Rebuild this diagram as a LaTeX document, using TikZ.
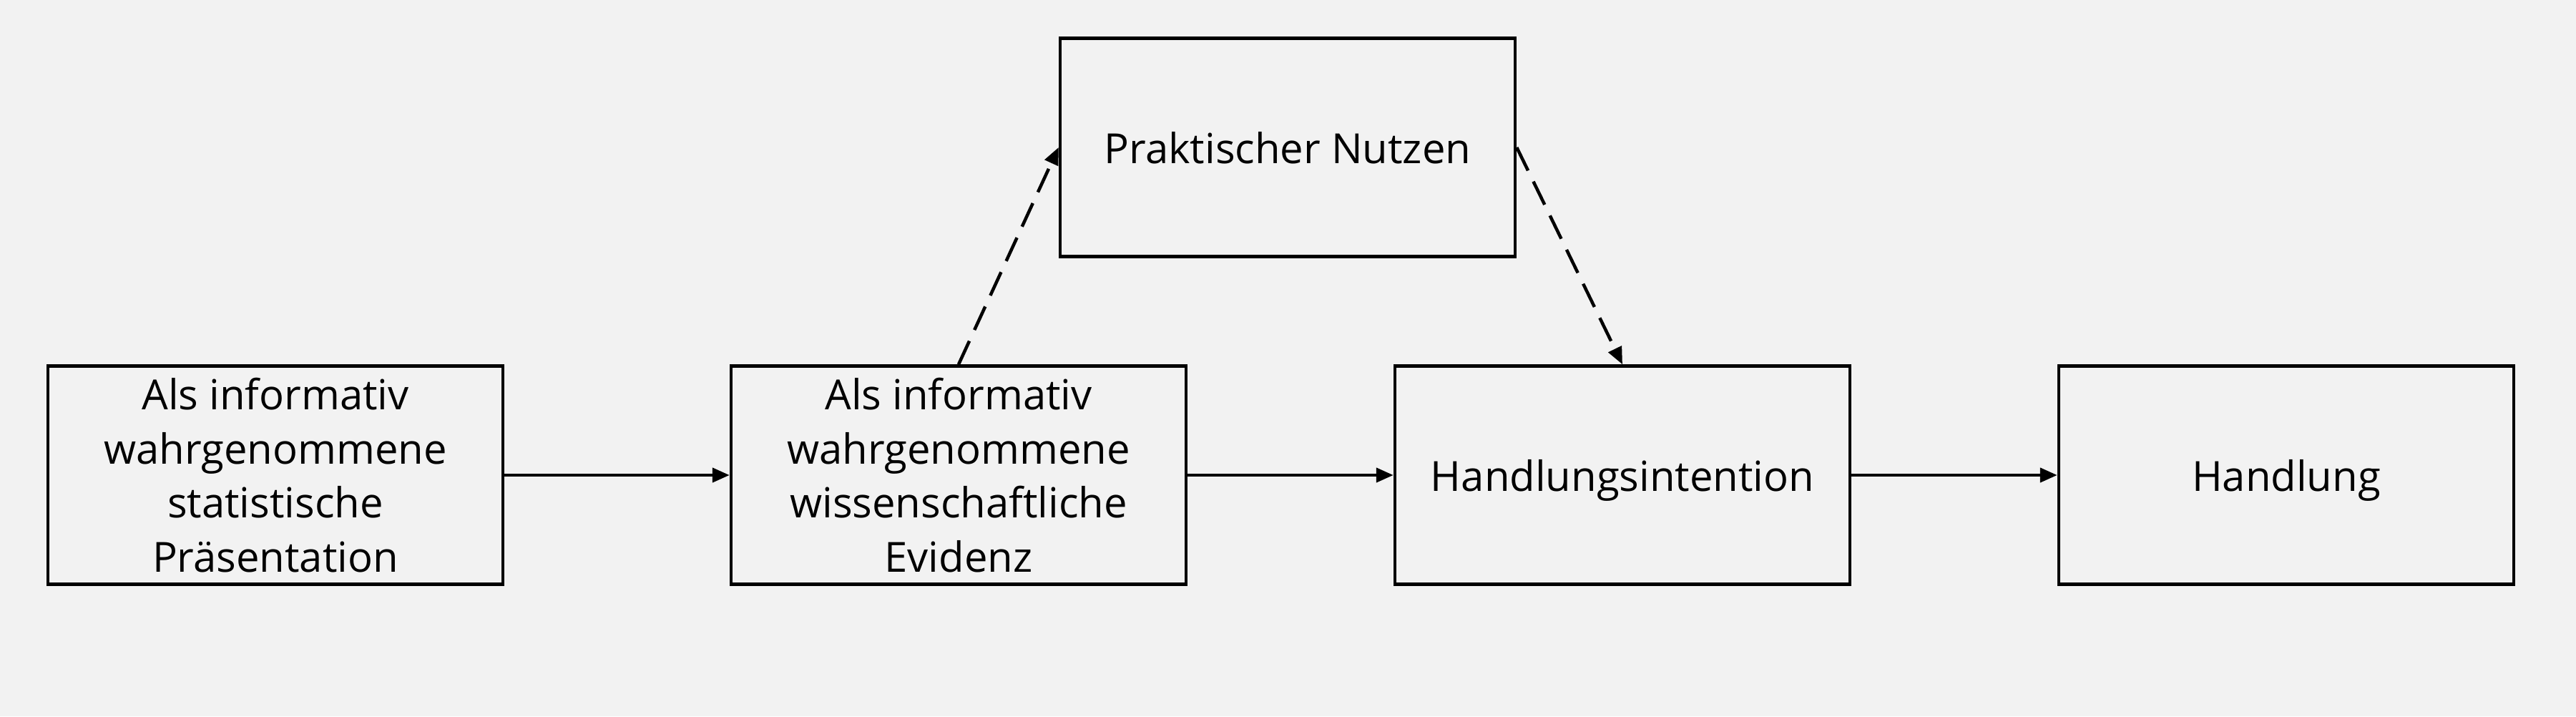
\documentclass[tikz,border=0pt]{standalone}
\usepackage{fontspec}
\setmainfont{Open Sans}
\usetikzlibrary{arrows.meta}
\definecolor{bgGray}{HTML}{F2F2F2}

\begin{document}
\begin{tikzpicture}
[lineDecorate/.style={-{Triangle[length=2.4mm,width=2mm]},line width=0.45mm},%
  dashDecorate/.style={lineDecorate,dash pattern=on 3.6mm off 1.7mm},
  nodeDecorate/.style={shape=rectangle,draw,line width=0.45mm,
    minimum width=6.36cm,minimum height=3.05cm,align=center,text depth=0pt,
    font=\fontsize{16.5}{21.5}\selectfont}]
\fill[bgGray] (0,0) rectangle (36.01,10.01);
\useasboundingbox (0,0) rectangle (36.01,10.01);
%% nodes or vertices
\foreach \nodename/\x/\y/\label in {
  praesentation/3.85/3.37/{Als informativ\\wahrgenommene\\statistische\\Präsentation},
  evidenz/13.40/3.37/{Als informativ\\wahrgenommene\\wissenschaftliche\\Evidenz},
  nutzen/18.00/7.95/{Praktischer Nutzen},
  intention/22.68/3.37/{Handlungsintention},
  handlung/31.96/3.37/{Handlung}}
{
  \node (\nodename) at (\x,\y) [nodeDecorate] {\label};
}
%% edges or lines
\path
\foreach \startnode/\endnode in {
  praesentation/evidenz, evidenz/intention, intention/handlung}
{
  (\startnode) edge[lineDecorate] (\endnode)
}
(evidenz.north) edge[dashDecorate] (nutzen.west)
(nutzen.east) edge[dashDecorate] (intention.north);
\end{tikzpicture}
\end{document}
